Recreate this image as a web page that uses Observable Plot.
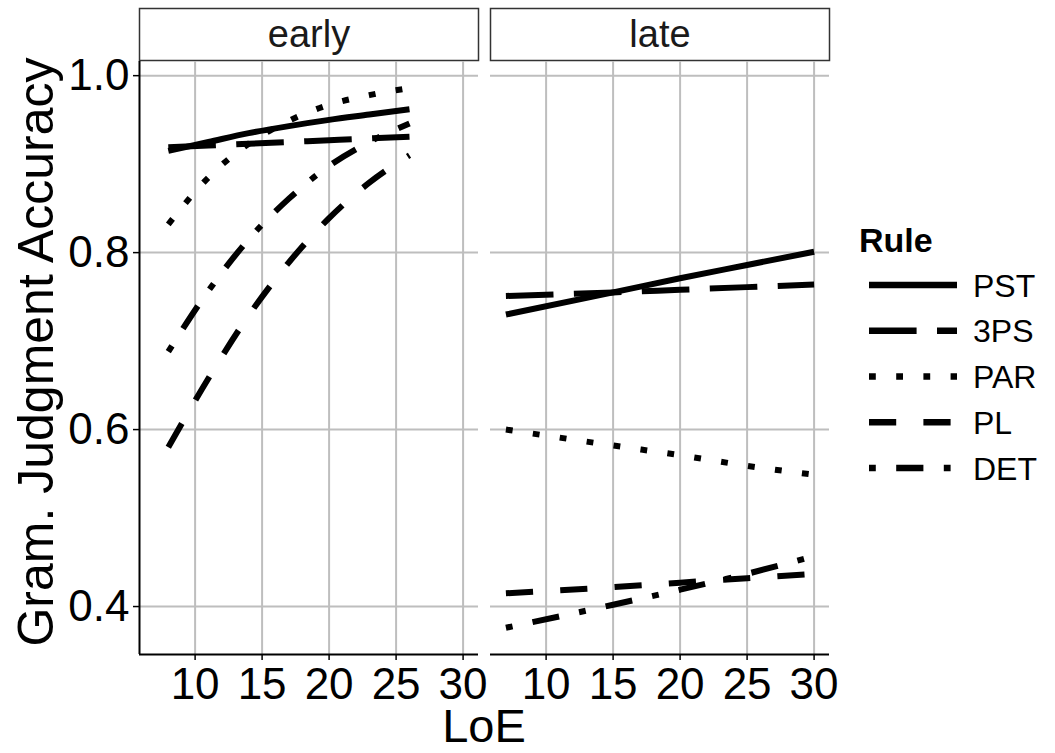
<!DOCTYPE html>
<html>
<head>
<meta charset="utf-8">
<script src="https://cdn.jsdelivr.net/npm/d3@7"></script>
<script src="https://cdn.jsdelivr.net/npm/@observablehq/plot@0.6"></script>
<style>
  html, body { margin: 0; padding: 0; background: white; }
  #wrap { position: relative; width: 1055px; height: 753px; overflow: hidden; font-family: "Liberation Sans", Arial, sans-serif; }
  #legend { position: absolute; left: 0; top: 0; }
</style>
</head>
<body>
<div id="wrap"></div>
<script>
// ---- data ----
const periods = ["early", "late"];
const rules = ["PST", "3PS", "PAR", "PL", "DET"];

const earlyLoE = [8, 11, 14, 17, 20, 23, 26];
const earlyPST = [0.915, 0.925, 0.935, 0.943, 0.950, 0.956, 0.962];
const early3PS = [0.919, 0.921, 0.923, 0.925, 0.927, 0.929, 0.931];
const earlyPAR = [0.832, 0.885, 0.923, 0.949, 0.967, 0.978, 0.986];
const earlyPL  = [0.580, 0.658, 0.729, 0.789, 0.839, 0.879, 0.910];
const earlyDET = [0.688, 0.757, 0.815, 0.861, 0.898, 0.925, 0.946];

const lateLoE = [7, 15, 20, 25, 30];
const latePST = [0.730, 0.755, 0.771, 0.786, 0.801];
const late3PS = [0.751, 0.755, 0.758, 0.761, 0.764];
const latePAR = [0.600, 0.582, 0.571, 0.559, 0.549];
const latePL  = [0.415, 0.422, 0.427, 0.432, 0.437];
const lateDET = [0.376, 0.402, 0.419, 0.437, 0.457];

const xTicks = [10, 15, 20, 25, 30];
const yTicks = [0.4, 0.6, 0.8, 1.0];
const xTitle = "LoE";
const yTitle = "Gram. Judgment Accuracy";
const legendTitle = "Rule";

// ---- build table ----
const series = {
  early: {LoE: earlyLoE, PST: earlyPST, "3PS": early3PS, PAR: earlyPAR, PL: earlyPL, DET: earlyDET},
  late:  {LoE: lateLoE,  PST: latePST,  "3PS": late3PS,  PAR: latePAR,  PL: latePL,  DET: lateDET}
};
const rows = [];
for (const p of periods) {
  for (const r of rules) {
    series[p].LoE.forEach((x, i) => rows.push({period: p, rule: r, LoE: x, acc: series[p][r][i]}));
  }
}

// ggplot-like linetypes (unit ~6.8px)
const u = 6.8;
const dashes = {
  PST: null,
  "3PS": `${7*u},${3*u}`,
  PAR: `${1*u},${3*u}`,
  PL: `${4*u},${4*u}`,
  DET: `${1*u},${3*u},${4*u},${3*u}`
};

const xDomain = [5.85, 31.15];
const yDomain = [0.3458, 1.016];
const font = "Liberation Sans, Arial, sans-serif";

const lineMarks = rules.map(r => Plot.line(rows.filter(d => d.rule === r), {
  x: "LoE", y: "acc", fx: "period", z: "period",
  stroke: "black", strokeWidth: 6, strokeLinecap: "butt",
  strokeDasharray: dashes[r] || undefined,
  curve: "monotone-x"
}));

const chart = Plot.plot({
  width: 1055,
  height: 753,
  marginLeft: 139,
  marginRight: 225,
  marginTop: 61,
  marginBottom: 99,
  style: {fontFamily: font, color: "black", background: "white", overflow: "visible"},
  fx: {domain: periods, padding: 0.034, axis: null},
  x: {domain: xDomain},
  y: {domain: yDomain},
  marks: [
    Plot.frame({insetTop: -53, insetBottom: 594, stroke: "#333333", strokeWidth: 1.5, fill: "white"}),
    Plot.gridX(xTicks, {stroke: "#bebebe", strokeWidth: 2, strokeOpacity: 1}),
    Plot.gridY(yTicks, {stroke: "#bebebe", strokeWidth: 2, strokeOpacity: 1}),
    Plot.ruleY([yDomain[0]], {stroke: "black", strokeWidth: 2}),
    Plot.ruleX([{p: "early", x: xDomain[0]}], {x: "x", fx: "p", stroke: "black", strokeWidth: 2}),
    Plot.text(periods, {fx: d => d, text: d => d, frameAnchor: "top", lineAnchor: "middle", dy: -27, fontSize: 38, fill: "#1a1a1a"}),
    Plot.axisX({ticks: xTicks, tickSize: 6, tickPadding: 7, fontSize: 44, label: null, strokeWidth: 1.5}),
    Plot.axisY({ticks: yTicks, tickSize: 6, tickPadding: 4, fontSize: 44, label: null, tickFormat: d3.format(".1f"), strokeWidth: 1.5}),
    ...lineMarks
  ]
});

const svg = d3.select(chart);
svg.append("text")
  .attr("x", 484).attr("y", 742)
  .attr("text-anchor", "middle")
  .attr("font-size", 47).attr("font-family", font).attr("fill", "black")
  .text(xTitle);
svg.append("text")
  .attr("transform", "translate(53,352) rotate(-90)")
  .attr("text-anchor", "middle")
  .attr("font-size", 50).attr("font-family", font).attr("fill", "black")
  .text(yTitle);

document.getElementById("wrap").appendChild(chart);

// ---- legend ----
const leg = d3.select("#wrap").append("svg")
  .attr("id", "legend").attr("width", 1055).attr("height", 753);
leg.append("text")
  .attr("x", 859).attr("y", 252)
  .attr("font-size", 34).attr("font-weight", "bold").attr("font-family", font).attr("fill", "black")
  .text(legendTitle);
const yScale = d3.scalePoint().domain(rules).range([285, 468]);
rules.forEach(r => {
  const y = yScale(r);
  const ln = leg.append("line")
    .attr("x1", 869).attr("x2", 957).attr("y1", y).attr("y2", y)
    .attr("stroke", "black").attr("stroke-width", 6.5).attr("stroke-linecap", "butt");
  if (dashes[r]) ln.attr("stroke-dasharray", dashes[r]);
  leg.append("text")
    .attr("x", 973).attr("y", y).attr("dy", "0.36em")
    .attr("font-size", 32).attr("font-family", font).attr("fill", "black")
    .text(r);
});
</script>
</body>
</html>
